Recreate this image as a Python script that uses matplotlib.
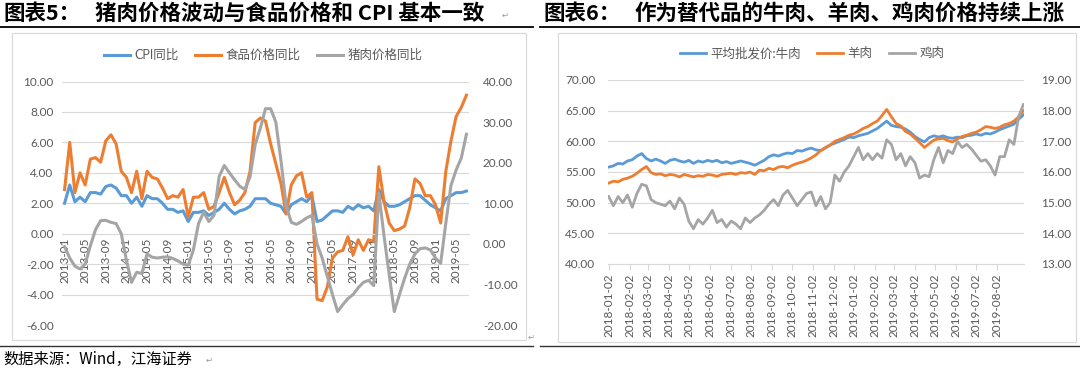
import numpy as np
import pandas as pd
import matplotlib
matplotlib.use("Agg")
import matplotlib.pyplot as plt
from matplotlib.lines import Line2D
from matplotlib.patches import Rectangle
from matplotlib.ticker import FormatStrFormatter

W, H = 1080, 374

# ---- 图表5: monthly, 2013-01 .. 2019-07 ----
months = pd.period_range("2013-01", "2019-07", freq="M").strftime("%Y-%m").tolist()
cpi = [2.0, 3.2, 2.1, 2.4, 2.1, 2.7, 2.7, 2.6, 3.1, 3.2, 3.0, 2.5,
       2.5, 2.0, 2.4, 1.8, 2.5, 2.3, 2.3, 2.0, 1.6, 1.6, 1.4, 1.5,
       0.8, 1.4, 1.4, 1.5, 1.2, 1.4, 1.6, 2.0, 1.6, 1.3, 1.5, 1.6,
       1.8, 2.3, 2.3, 2.3, 2.0, 1.9, 1.8, 1.3, 1.9, 2.1, 2.3, 2.1,
       2.5, 0.8, 0.9, 1.2, 1.5, 1.5, 1.4, 1.8, 1.6, 1.9, 1.7, 1.8,
       1.5, 2.9, 2.1, 1.8, 1.8, 1.9, 2.1, 2.3, 2.5, 2.5, 2.2, 1.9,
       1.7, 1.5, 2.3, 2.5, 2.7, 2.7, 2.8]
food = [2.9, 6.0, 2.7, 4.0, 3.2, 4.9, 5.0, 4.7, 6.1, 6.5, 5.9, 4.1,
        3.7, 2.7, 4.1, 2.3, 4.1, 3.7, 3.6, 3.0, 2.3, 2.5, 2.4, 2.9,
        1.1, 2.4, 2.4, 2.7, 1.6, 1.8, 2.7, 3.7, 2.7, 1.9, 2.2, 2.7,
        4.1, 7.3, 7.6, 7.4, 5.9, 4.6, 3.3, 1.3, 3.2, 3.8, 4.0, 2.4,
        2.7, -4.3, -4.4, -3.5, -1.6, -1.2, -1.1, -0.2, -1.4, -0.4, -1.1, -0.4,
        -0.5, 4.4, 2.1, 0.7, 0.2, 0.3, 0.5, 1.7, 3.6, 3.3, 2.5, 2.5,
        1.9, 0.7, 4.1, 6.1, 7.7, 8.3, 9.1]
pork = [-0.7, -3.5, -5.5, -6.2, -5.0, -0.5, 3.5, 5.7, 5.8, 5.3, 5.0, 2.5,
        -4.0, -9.5, -7.0, -7.3, -2.5, -3.3, -3.5, -3.3, -3.2, -3.6, -4.2, -5.0,
        -5.3, -1.5, 5.0, 7.8, 5.5, 7.0, 16.6, 19.3, 17.5, 15.8, 14.2, 13.4,
        16.5, 24.5, 28.5, 33.3, 33.3, 30.0, 20.5, 9.5, 5.3, 4.8, 5.5, 6.4,
        7.0, 0.0, -3.5, -8.0, -12.5, -16.7, -15.0, -13.5, -12.5, -10.8, -9.5, -9.0,
        -10.3, 12.5, 2.0, -7.5, -16.7, -12.5, -8.5, -5.0, -2.5, -1.2, -1.0, -1.5,
        -3.5, -4.8, 5.1, 14.4, 18.2, 21.1, 27.0]

# ---- 图表6: weekly readings, 2018-01-02 .. 2019-09-10 ----
dates6 = pd.date_range("2018-01-02", "2019-09-10", freq="7D")
beef = [55.8, 56.0, 56.4, 56.3, 56.8, 57.0, 57.6, 58.0, 57.2, 56.8,
        57.1, 56.8, 56.4, 56.9, 57.1, 56.8, 56.6, 56.9, 56.4, 56.8,
        56.6, 56.9, 56.7, 56.9, 56.5, 56.7, 56.4, 56.6, 56.8, 56.6,
        56.4, 56.1, 56.5, 56.9, 57.5, 57.8, 57.6, 57.9, 58.1, 58.0,
        58.5, 58.4, 58.7, 58.9, 58.6, 58.5, 58.9, 59.4, 59.7, 60.0,
        60.3, 60.7, 60.6, 60.9, 61.1, 61.3, 61.7, 62.1, 62.7, 63.3,
        62.6, 62.4, 62.3, 62.0, 61.5, 60.8, 60.3, 59.9, 60.6, 60.9,
        60.7, 60.9, 60.6, 60.5, 60.7, 60.6, 60.9, 61.0, 61.2, 61.0,
        61.3, 61.2, 61.5, 61.9, 62.2, 62.5, 62.8, 63.6, 64.3]
mutton = [53.2, 53.5, 53.4, 53.8, 54.0, 54.3, 54.8, 55.4, 55.9, 54.9,
          54.6, 54.7, 54.4, 54.6, 54.5, 54.2, 54.6, 54.4, 54.2, 54.4,
          54.3, 54.6, 54.5, 54.3, 54.6, 54.7, 54.8, 54.6, 54.9, 54.8,
          55.0, 54.6, 55.3, 55.2, 55.6, 55.4, 55.8, 55.9, 55.7, 56.1,
          56.4, 56.6, 56.9, 57.3, 57.8, 58.5, 59.0, 59.4, 60.0, 60.3,
          60.6, 61.0, 61.2, 61.6, 62.1, 62.4, 62.9, 63.3, 64.2, 65.2,
          64.0, 62.9, 62.5, 61.6, 61.2, 60.5, 59.8, 59.0, 59.6, 60.2,
          60.4, 60.5, 60.1, 59.9, 60.4, 60.8, 61.0, 61.3, 61.5, 61.9,
          62.4, 62.3, 62.1, 62.3, 62.7, 62.9, 63.3, 64.0, 65.0]
chicken = [15.2, 14.9, 15.2, 15.0, 15.25, 14.85, 15.3, 15.6, 15.55, 15.1,
           15.0, 14.95, 14.9, 15.05, 14.8, 15.15, 14.95, 14.4, 14.15, 14.45,
           14.3, 14.5, 14.75, 14.35, 14.45, 14.2, 14.4, 14.3, 14.15, 14.5,
           14.35, 14.5, 14.6, 14.75, 14.95, 15.1, 14.9, 15.25, 15.4, 15.15,
           14.9, 15.1, 15.3, 15.35, 14.9, 15.2, 14.8, 15.0, 15.9, 15.7,
           16.0, 16.2, 16.5, 16.8, 16.4, 16.6, 16.4, 16.6, 16.45, 17.05,
           16.9, 16.4, 16.6, 16.2, 16.5, 16.3, 15.8, 15.9, 15.85, 16.4,
           16.8, 16.3, 16.7, 16.6, 17.0, 16.8, 16.9, 16.75, 16.55, 16.35,
           16.4, 16.2, 15.9, 16.5, 16.5, 17.05, 16.9, 17.8, 18.2]

BLUE, ORANGE, GREY = "#5B9BD5", "#ED7D31", "#A5A5A5"
TXT = "#595959"
GRID = "#D9D9D9"
CJK = ["Noto Sans CJK SC", "DejaVu Sans"]

plt.rcParams["font.family"] = ["Lato", "Noto Sans CJK SC", "DejaVu Sans"]
plt.rcParams["font.size"] = 8.5


def fx(x):
    return x / W


def fy(y):
    return 1 - y / H


def rect(l, t, r, b):
    return [l / W, 1 - b / H, (r - l) / W, (b - t) / H]


fig = plt.figure(figsize=(W / 100, H / 100), dpi=100)

# ---------------- left chart ----------------
ax1 = fig.add_axes(rect(62, 81.5, 469, 325))
x = np.arange(len(months))
l1, = ax1.plot(x, cpi, color=BLUE, lw=2.2, label="CPI同比")
l2, = ax1.plot(x, food, color=ORANGE, lw=2.2, label="食品价格同比")
ax1.set_xlim(-0.5, len(months) - 0.5)
ax1.set_ylim(-6, 10)
ax1.set_yticks(np.arange(-6, 11, 2))
ax1.yaxis.set_major_formatter(FormatStrFormatter("%.2f"))
ax1.grid(axis="y", color=GRID, lw=0.8)
ax1.set_axisbelow(True)
for s in ["top", "right", "left"]:
    ax1.spines[s].set_visible(False)
ax1.spines["bottom"].set_position(("data", 0))
ax1.spines["bottom"].set_color(GRID)
ax1.set_xticks(x[::4])
ax1.set_xticklabels(months[::4], rotation=90)
ax1.tick_params(axis="x", length=0, pad=3, colors=TXT)
ax1.tick_params(axis="y", length=0, pad=6, colors=TXT)

ax1b = ax1.twinx()
l3, = ax1b.plot(x, pork, color=GREY, lw=2.2, label="猪肉价格同比")
ax1b.set_ylim(-20, 40)
ax1b.set_yticks(np.arange(-20, 41, 10))
ax1b.yaxis.set_major_formatter(FormatStrFormatter("%.2f"))
ax1b.tick_params(axis="y", length=0, pad=10, colors=TXT)
for s in ax1b.spines.values():
    s.set_visible(False)

fig.legend([l1, l2, l3], [l1.get_label(), l2.get_label(), l3.get_label()],
           loc="center", bbox_to_anchor=(fx(263), fy(55)), ncol=3, frameon=False,
           fontsize=9, handlelength=2.1, handletextpad=0.35, columnspacing=1.3,
           labelcolor=TXT)

# ---------------- right chart ----------------
ax2 = fig.add_axes(rect(608, 80, 1024, 264))
m1, = ax2.plot(dates6, beef, color=BLUE, lw=2.0, label="平均批发价:牛肉")
m2, = ax2.plot(dates6, mutton, color=ORANGE, lw=2.0, label="羊肉")
ax2.set_ylim(40, 70)
ax2.set_yticks(np.arange(40, 71, 5))
ax2.yaxis.set_major_formatter(FormatStrFormatter("%.2f"))
ax2.grid(axis="y", color=GRID, lw=0.8)
ax2.set_axisbelow(True)
for s in ["top", "right", "left"]:
    ax2.spines[s].set_visible(False)
ax2.spines["bottom"].set_color(GRID)
ticks6 = pd.date_range("2018-01-02", "2019-08-02", freq=pd.DateOffset(months=1))
ax2.set_xlim(pd.Timestamp("2018-01-01"), pd.Timestamp("2019-09-11"))
ax2.set_xticks(ticks6)
ax2.set_xticklabels([d.strftime("%Y-%m-%d") for d in ticks6], rotation=90)
ax2.tick_params(axis="x", length=4, width=0.8, color=GRID, pad=3, labelcolor=TXT)
ax2.tick_params(axis="y", length=0, pad=9, colors=TXT)

ax2b = ax2.twinx()
m3, = ax2b.plot(dates6, chicken, color=GREY, lw=2.0, label="鸡肉")
ax2b.set_ylim(13, 19)
ax2b.set_yticks(np.arange(13, 20, 1))
ax2b.yaxis.set_major_formatter(FormatStrFormatter("%.2f"))
ax2b.tick_params(axis="y", length=0, pad=12, colors=TXT)
for s in ax2b.spines.values():
    s.set_visible(False)

fig.legend([m1, m2, m3], [m1.get_label(), m2.get_label(), m3.get_label()],
           loc="center", bbox_to_anchor=(fx(812), fy(53)), ncol=3, frameon=False,
           fontsize=9, handlelength=2.1, handletextpad=0.35, columnspacing=1.3,
           labelcolor=TXT)

# ---------------- frame, titles, source ----------------
fig.add_artist(Rectangle((fx(12), fy(340)), (526 - 12) / W, (340 - 33) / H,
                         transform=fig.transFigure, fill=False, ec=GRID, lw=0.8))
fig.add_artist(Rectangle((fx(558), fy(342)), (1076 - 558) / W, (342 - 33) / H,
                         transform=fig.transFigure, fill=False, ec=GRID, lw=0.8))

for x0, x1 in [(0, 533), (540, 1080)]:
    fig.add_artist(Line2D([fx(x0), fx(x1)], [fy(27), fy(27)], color="black", lw=1.3,
                          transform=fig.transFigure))
    fig.add_artist(Line2D([fx(x0), fx(x1)], [fy(346), fy(346)], color="#333333", lw=1.0,
                          transform=fig.transFigure))

fig.text(fx(3), fy(13), "图表5：", fontsize=15.5, fontweight="bold", va="center", family=CJK)
fig.text(fx(95), fy(13), "猪肉价格波动与食品价格和 CPI 基本一致", fontsize=15.5,
         fontweight="bold", va="center", family=CJK)
fig.text(fx(543), fy(13), "图表6：", fontsize=15.5, fontweight="bold", va="center", family=CJK)
fig.text(fx(635), fy(13), "作为替代品的牛肉、羊肉、鸡肉价格持续上涨", fontsize=15.5,
         fontweight="bold", va="center", family=CJK)
fig.text(fx(3), fy(359), "数据来源：Wind，江海证券", fontsize=11, va="center", family=CJK)

for px, py in [(502, 15), (528, 337), (206, 360)]:
    fig.text(fx(px), fy(py), "↵", fontsize=6, color="#999999", va="center",
             family=["DejaVu Sans"])

fig.savefig("out.png", dpi=100)
